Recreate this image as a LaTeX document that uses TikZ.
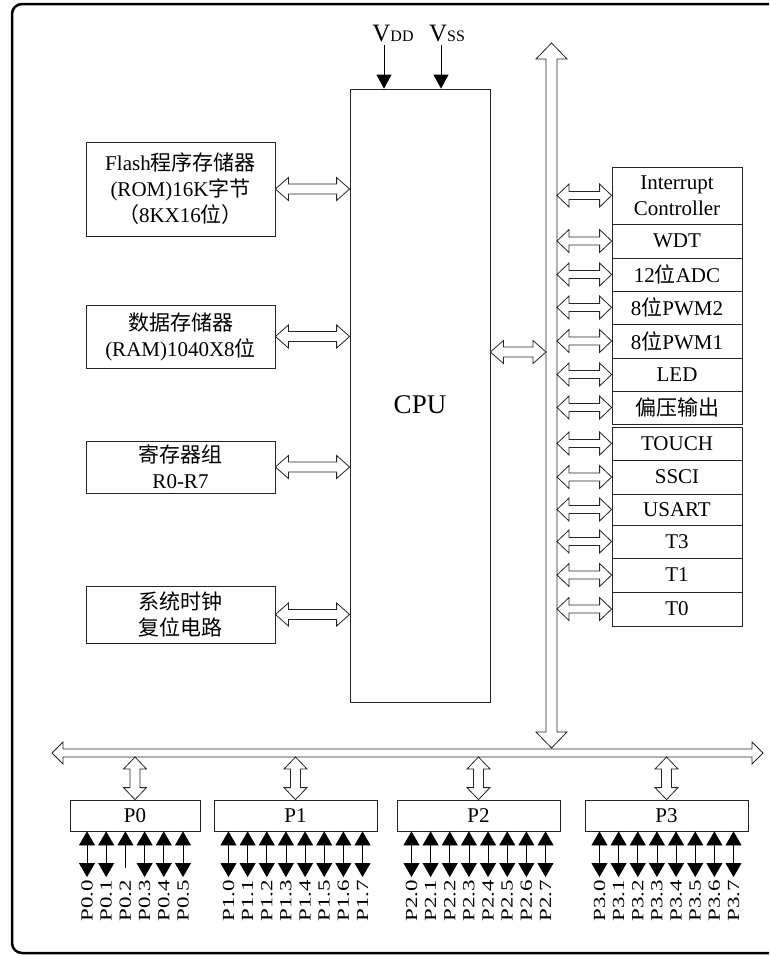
\documentclass[tikz,border=0pt]{standalone}
\usepackage{fontspec}
\setmainfont{Liberation Serif}
\newfontfamily\cjk{Noto Sans CJK SC}
\newcommand\zh[1]{{\cjk #1}}
\usetikzlibrary{arrows.meta,calc}
% hollow double arrow, horizontal: #1 left tip, #2 right tip (y of #1), #3 shaft half, #4 head half, #5 head length
\newcommand\harrow[5]{%
  \draw[hollow] let \p1=#1, \p2=#2 in
  (\x1,\y1) -- (\x1+#5,\y1+#4) -- (\x1+#5,\y1+#3) -- (\x2-#5,\y1+#3) -- (\x2-#5,\y1+#4)
  -- (\x2,\y1) -- (\x2-#5,\y1-#4) -- (\x2-#5,\y1-#3) -- (\x1+#5,\y1-#3) -- (\x1+#5,\y1-#4) -- cycle;}
% hollow double arrow, vertical: #1 top tip, #2 bottom tip (x of #1)
\newcommand\varrow[5]{%
  \draw[hollow] let \p1=#1, \p2=#2 in
  (\x1,\y1) -- (\x1+#4,\y1-#5) -- (\x1+#3,\y1-#5) -- (\x1+#3,\y2+#5) -- (\x1+#4,\y2+#5)
  -- (\x1,\y2) -- (\x1-#4,\y2+#5) -- (\x1-#3,\y2+#5) -- (\x1-#3,\y1-#5) -- (\x1-#4,\y1-#5) -- cycle;}
\tikzset{
  box/.style={draw=black!85, line width=0.8pt, inner sep=0pt, align=center,
    font=\fontsize{21}{26}\selectfont},
  hollow/.style={draw=black!85, line width=0.8pt, fill=white, line join=miter},
  pinarrow/.style={line width=0.8pt,
    {Triangle[width=16pt,length=14pt]}-{Triangle[width=16pt,length=14pt]}},
  pinin/.style={line width=0.8pt, {Triangle[width=16pt,length=14pt]}-},
  pinlbl/.style={rotate=90, anchor=east, inner sep=0pt, font=\fontsize{17}{17}\selectfont},
  pwr/.style={line width=0.8pt, -{Triangle[width=15pt,length=14pt]}},
}
\begin{document}
\begin{tikzpicture}[x=1pt,y=-1pt]
\useasboundingbox (0,0) rectangle (769,956);
% frame (its right side lies beyond the picture)
\begin{scope}
\clip (0,0) rectangle (769,956);
\draw[line width=2.5pt, rounded corners=10pt] (12,4) rectangle (900,953);
\end{scope}

% CPU
\node[box, minimum width=140pt, minimum height=613pt] (cpu) at (420,395.5) {};
\node[font=\fontsize{27}{30}\selectfont] (cputxt) at (420,405) {CPU};

% power
\node[anchor=base, inner sep=0pt] (vdd) at (393,41) {\fontsize{25}{25}\selectfont V\fontsize{16}{16}\selectfont DD};
\node[anchor=base, inner sep=0pt] (vss) at (447,41) {\fontsize{25}{25}\selectfont V\fontsize{16}{16}\selectfont SS};
\coordinate (vddx) at (384,45);
\coordinate (vssx) at (441,45);
\draw[pwr] (vddx) -- (vddx |- cpu.north);
\draw[pwr] (vssx) -- (vssx |- cpu.north);

% left boxes
\node[box, minimum width=189pt, minimum height=94pt] (flash) at (180.5,189)
  {Flash\zh{程序存储器}\\(ROM)16K\zh{字节}\\\zh{（}8KX16\zh{位）}};
\node[box, minimum width=189pt, minimum height=63pt] (ram) at (180.5,336.5)
  {\zh{数据存储器}\\(RAM)1040X8\zh{位}};
\node[box, minimum width=189pt, minimum height=52pt] (reg) at (180.5,467)
  {\zh{寄存器组}\\R0-R7};
\node[box, minimum width=189pt, minimum height=57pt] (clk) at (180.5,614.5)
  {\zh{系统时钟}\\\zh{复位电路}};
\foreach \bx in {flash,ram,reg,clk}
  \harrow{(\bx.east)}{(cpu.west |- \bx.east)}{5pt}{11.5pt}{13pt};

% buses
\coordinate (vbT) at (551.5,43);
\coordinate (vbB) at (551.5,748);
\varrow{(vbT)}{(vbB)}{5.5pt}{15.5pt}{16pt}
\coordinate (hbL) at (52,753);
\coordinate (hbR) at (763,753);
\harrow{(hbL)}{(hbR)}{4pt}{11pt}{11pt}
\coordinate (busLft) at (546,352);
\coordinate (busRgt) at (557,400);
\harrow{(cpu.east |- busLft)}{(busLft)}{5pt}{11.5pt}{13pt}

% peripherals
\node[box, minimum width=130pt, minimum height=57pt] (int) at (677,195.5) {Interrupt\\Controller};
\node[box, minimum width=130pt, minimum height=34pt] (wdt) at (677,241) {WDT};
\node[box, minimum width=130pt, minimum height=33pt] (adc) at (677,274.5) {12\zh{位}ADC};
\node[box, minimum width=130pt, minimum height=33pt] (pwm2) at (677,307.5) {8\zh{位}PWM2};
\node[box, minimum width=130pt, minimum height=34pt] (pwm1) at (677,341) {8\zh{位}PWM1};
\node[box, minimum width=130pt, minimum height=33pt] (led) at (677,374.5) {LED};
\node[box, minimum width=130pt, minimum height=33pt] (bias) at (677,407.5) {\zh{偏压输出}};
\node[box, minimum width=130pt, minimum height=33pt] (touch) at (677,443.5) {TOUCH};
\node[box, minimum width=130pt, minimum height=34pt] (ssci) at (677,477) {SSCI};
\node[box, minimum width=130pt, minimum height=31pt] (usart) at (677,509.5) {USART};
\node[box, minimum width=130pt, minimum height=33pt] (t3) at (677,541.5) {T3};
\node[box, minimum width=130pt, minimum height=34pt] (t1) at (677,575) {T1};
\node[box, minimum width=130pt, minimum height=34pt] (t0) at (677,609) {T0};
\foreach \bx in {int,wdt,adc,pwm2,pwm1,led,bias,touch,ssci,usart,t3,t1,t0}
  \harrow{(busRgt |- \bx.west)}{(\bx.west)}{4pt}{11.5pt}{12pt};

% ports
\node[box, minimum width=130pt, minimum height=31pt] (p0) at (135,815.5) {P0};
\node[box, minimum width=163pt, minimum height=31pt] (p1) at (295.5,815.5) {P1};
\node[box, minimum width=163pt, minimum height=31pt] (p2) at (478.5,815.5) {P2};
\node[box, minimum width=163pt, minimum height=31pt] (p3) at (666.5,815.5) {P3};
\coordinate (hbBot) at (0,757);
\foreach \bx in {p0,p1,p2,p3}
  \varrow{(\bx.north |- hbBot)}{(\bx.north)}{5pt}{11.5pt}{12pt};

% pins of P0
\foreach \k in {0,1,3,4,5} {
  \pgfmathsetmacro\px{135+(\k-2.5)*19.2}
  \coordinate (p0-\k) at (\px,877);
  \draw[pinarrow] (p0.south -| p0-\k) -- (p0-\k);
}
\pgfmathsetmacro\px{135+(2-2.5)*19.2}
\coordinate (p0-2) at (\px,868);
\draw[pinin] (p0.south -| p0-2) -- (p0-2);
\foreach \k in {0,...,5} {
  \pgfmathsetmacro\px{135+(\k-2.5)*19.2}
  \node[pinlbl] (l0-\k) at (\px,880) {\scalebox{1.35}[1]{P0.\k}};
}
% pins of P1..P3
\foreach \pt/\pn/\cx in {p1/1/295.5, p2/2/478.5, p3/3/666.5} {
  \foreach \k in {0,...,7} {
    \pgfmathsetmacro\px{\cx+(\k-3.5)*19.15}
    \coordinate (\pt-\k) at (\px,877);
    \draw[pinarrow] (\pt.south -| \pt-\k) -- (\pt-\k);
    \node[pinlbl] (l\pn-\k) at (\px,880) {\scalebox{1.35}[1]{P\pn.\k}};
  }
}
\end{tikzpicture}
\end{document}
